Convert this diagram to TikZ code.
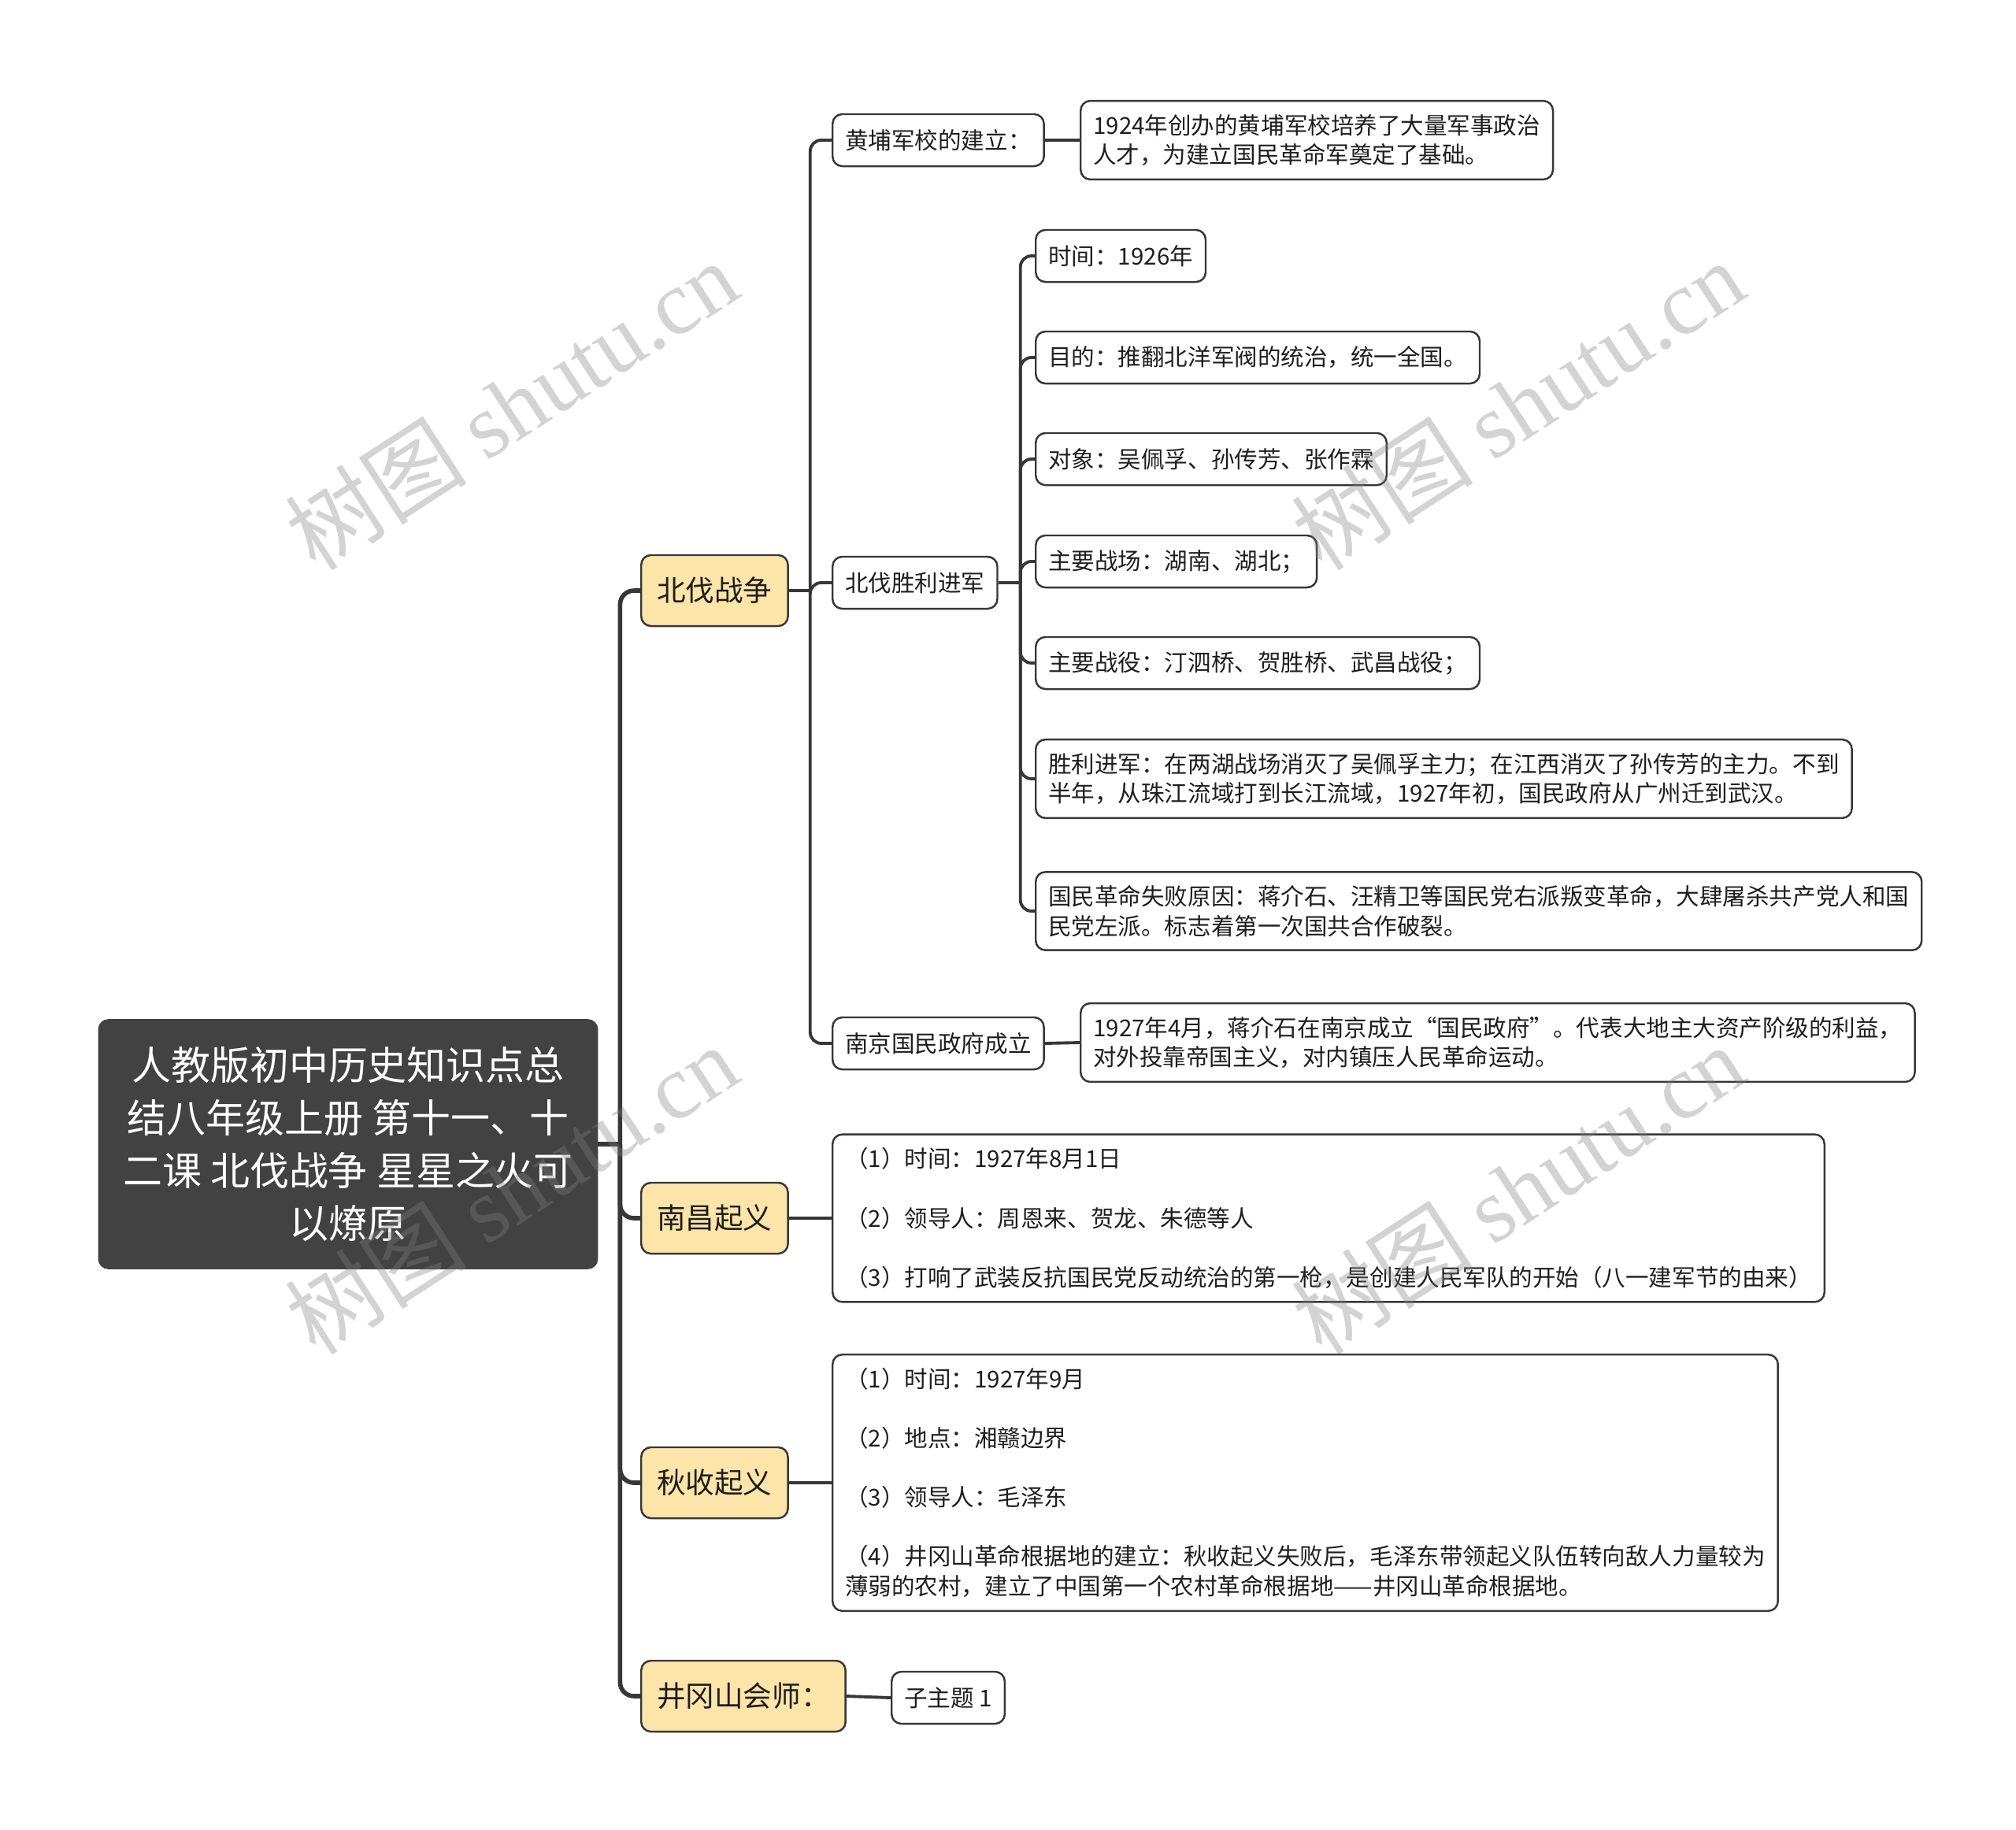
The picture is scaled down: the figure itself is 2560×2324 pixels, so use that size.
\documentclass[tikz,border=0pt]{standalone}
\usepackage{fontspec}
\setmainfont{Noto Sans CJK SC}
\newfontfamily\wmfont{Liberation Serif}
\usepackage{tikz}
\usetikzlibrary{calc, positioning}
\definecolor{rootgray}{RGB}{66,66,66}
\definecolor{topicyellow}{RGB}{253,228,168}
\definecolor{linegray}{RGB}{55,55,55}
\definecolor{textblack}{RGB}{30,30,30}

\begin{document}
\begin{tikzpicture}[
    x=0.01cm, y=-0.01cm,
    rootbox/.style={rectangle, draw=rootgray, fill=rootgray, rounded corners=3.5pt,
                    text=white, align=center, minimum width=6.33cm, minimum height=3.16cm,
                    font=\fontsize{14.2}{19}\selectfont},
    topicbox/.style={rectangle, draw=linegray, fill=topicyellow, line width=0.7pt,
                     rounded corners=3.5pt, text=textblack, inner xsep=0.2cm,
                     minimum height=0.9cm, font=\fontsize{10.4}{13}\selectfont},
    subbox/.style={rectangle, draw=linegray, fill=white, line width=0.7pt,
                   rounded corners=3.5pt, text=textblack, inner xsep=0.16cm,
                   inner ysep=0.17cm, minimum height=0.66cm, align=left,
                   font=\fontsize{8.4}{10.7}\selectfont},
    trunk/.style={draw=linegray, line width=1.6pt},
    branch/.style={draw=linegray, line width=1.1pt},
    watermark/.style={rotate=33, text=black!50, text opacity=0.35,
                      font=\fontsize{33}{38}\selectfont}
]
\useasboundingbox (0,0) rectangle (2560,2324);
%% Root topic
\node[rootbox] (root) at (442,1453)
    {人教版初中历史知识点总\\结八年级上册 第十一、十\\二课 北伐战争 星星之火可\\以燎原};
\coordinate (rootfork) at ($(root.east)+(28,0)$);
\draw[trunk] (root.east) -- (rootfork);
%% Main topics
\foreach \name/\ypos/\txt in {bfzz/750/北伐战争, ncqy/1547/南昌起义,
                              qsqy/1883/秋收起义, jgshs/2154/井冈山会师：} {
    \node[topicbox, anchor=west] (\name) at (813,\ypos) {\txt};
    \draw[trunk, rounded corners=5pt] (rootfork) |- (\name.west);
}
%% Northern Expedition branches
\coordinate (bffork) at ($(bfzz.east)+(27,0)$);
\draw[branch] (bfzz.east) -- (bffork);
\node[subbox, anchor=west] (hpjx) at (1056,178) {黄埔军校的建立：};
\node[subbox, anchor=west] (bfsl) at (1056,740) {北伐胜利进军};
\node[subbox, anchor=west] (njzf) at (1056,1325) {南京国民政府成立};
\foreach \n in {hpjx, bfsl, njzf}
    \draw[branch, rounded corners=4pt] (bffork) |- (\n.west);
\node[subbox, anchor=west] (hpjxnote) at (1371,178)
    {1924年创办的黄埔军校培养了大量军事政治\\人才，为建立国民革命军奠定了基础。};
\draw[branch] (hpjx.east) -- (hpjxnote.west);
\node[subbox, anchor=west] (njzfnote) at (1371,1324)
    {1927年4月，蒋介石在南京成立“国民政府”。代表大地主大资产阶级的利益，\\对外投靠帝国主义，对内镇压人民革命运动。};
\draw[branch] (njzf.east) -- (njzfnote.west);
%% Victory march details
\coordinate (slfork) at ($(bfsl.east)+(28,0)$);
\draw[branch] (bfsl.east) -- (slfork);
\foreach \i/\ypos/\txt in {1/325/{时间：1926年},
                           2/454/{目的：推翻北洋军阀的统治，统一全国。},
                           3/583/{对象：吴佩孚、孙传芳、张作霖},
                           4/713/{主要战场：湖南、湖北；},
                           5/842/{主要战役：汀泗桥、贺胜桥、武昌战役；},
                           6/989/{胜利进军：在两湖战场消灭了吴佩孚主力；在江西消灭了孙传芳的主力。不到\\半年，从珠江流域打到长江流域，1927年初，国民政府从广州迁到武汉。},
                           7/1157/{国民革命失败原因：蒋介石、汪精卫等国民党右派叛变革命，大肆屠杀共产党人和国\\民党左派。标志着第一次国共合作破裂。}} {
    \node[subbox, anchor=west] (slitem\i) at (1314,\ypos) {\txt};
    \draw[branch, rounded corners=4pt] (slfork) |- (slitem\i.west);
}
%% Uprisings
\node[subbox, anchor=west] (ncqynote) at (1056,1547)
    {（1）时间：1927年8月1日\\[0.375cm]（2）领导人：周恩来、贺龙、朱德等人\\[0.375cm]（3）打响了武装反抗国民党反动统治的第一枪，是创建人民军队的开始（八一建军节的由来）};
\draw[branch] (ncqy.east) -- (ncqynote.west);
\node[subbox, anchor=west] (qsqynote) at (1056,1883)
    {（1）时间：1927年9月\\[0.375cm]（2）地点：湘赣边界\\[0.375cm]（3）领导人：毛泽东\\[0.375cm]（4）井冈山革命根据地的建立：秋收起义失败后，毛泽东带领起义队伍转向敌人力量较为\\薄弱的农村，建立了中国第一个农村革命根据地——井冈山革命根据地。};
\draw[branch] (qsqy.east) -- (qsqynote.west);
\node[subbox, anchor=west] (jgssub) at (1131,2156) {子主题 1};
\draw[branch] (jgshs.east) -- (jgssub.west);
%% Watermarks
\foreach \k/\wx/\wy in {1/649/514, 2/1927/514, 3/649/1510, 4/1927/1510}
    \node[watermark] (wm\k) at (\wx,\wy) {树图 {\wmfont shutu.cn}};
\end{tikzpicture}
\end{document}
